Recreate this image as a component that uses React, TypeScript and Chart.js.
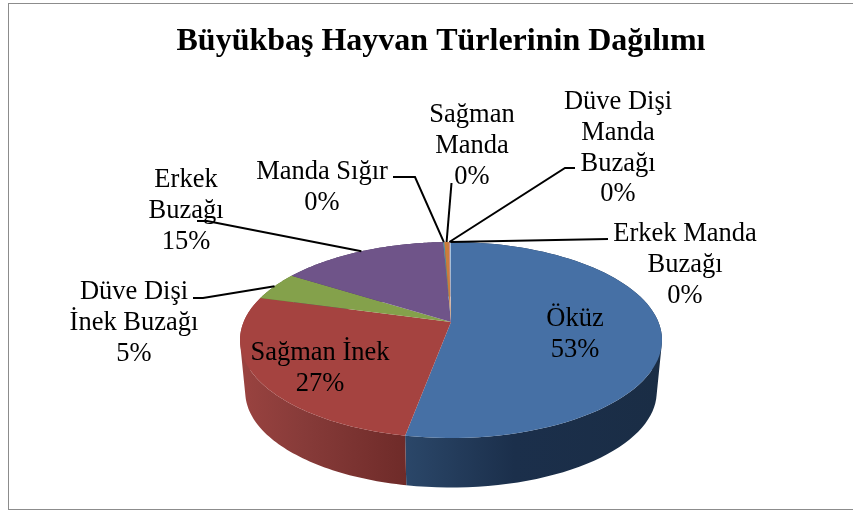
import React, { useEffect, useRef } from "react";
import { Chart, registerables } from "chart.js";

Chart.register(...registerables);

const categories = ["Öküz", "Sağman İnek", "Düve Dişi İnek Buzağı", "Erkek Buzağı", "Manda Sığır", "Sağman Manda", "Düve Dişi Manda Buzağı", "Erkek Manda Buzağı"];
const seriesValues = [52.9, 26.4, 4.7, 15.3, 0.1, 0.4, 0.1, 0.1];
const topColors = ["#4670A5", "#A54340", "#84A14B", "#6F5489", "#4494AB", "#CB7D3C", "#D08A86", "#A9C4E0"];
const sideStops: string[][] = [
  ["#2B4769", "#1B2F4B", "#1A2D45"],
  ["#9A4340", "#873B39", "#6F2B29"],
  ["#5F7535", "#5F7535", "#5F7535"],
  ["#4F3C62", "#4F3C62", "#4F3C62"],
  ["#2F6A7B", "#2F6A7B", "#2F6A7B"],
  ["#8F5A2B", "#8F5A2B", "#8F5A2B"],
  ["#8F5A5A", "#8F5A5A", "#8F5A5A"],
  ["#6A8AA5", "#6A8AA5", "#6A8AA5"],
];
const labelLines: string[][] = [
  ["Öküz", "53%"],
  ["Sağman İnek", "27%"],
  ["Düve Dişi", "İnek Buzağı", "5%"],
  ["Erkek", "Buzağı", "15%"],
  ["Manda Sığır", "0%"],
  ["Sağman", "Manda", "0%"],
  ["Düve Dişi", "Manda", "Buzağı", "0%"],
  ["Erkek Manda", "Buzağı", "0%"],
];
const labelCenters: [number, number][] = [
  [575, 319], [320, 353], [134, 292], [186, 180], [322, 172], [472, 115.5], [618, 102], [685, 234],
];
const leaderStarts: ([number, number][] | null)[] = [
  null, null,
  [[193, 298], [203, 298]],
  [[197, 221], [207, 221]],
  [[393, 177], [415, 177]],
  [[451.5, 183]],
  [[575, 168], [565, 168]],
  [[608, 239]],
];

const TITLE = "Büyükbaş Hayvan Türlerinin Dağılımı";
const SERIF = '"Liberation Serif", "Times New Roman", serif';

const pie3d = {
  id: "pie3d",
  beforeDatasetDraw(chart: any, args: any) {
    const { ctx } = chart;
    const els = args.meta.data;
    const cx = els[0].x;
    const R = els[0].outerRadius;
    const cyTop = 340;
    const ry = 98;
    const k = -0.1837;
    const s = R * Math.sqrt(1 - k * k);
    const rim = (a: number, sc: number, dy: number) => {
      const X = Math.cos(a), Y = Math.sin(a);
      const d = 1 + k * Y;
      return [cx + (sc * s * X) / d, cyTop + dy + (sc * ry * (Y + k)) / d];
    };
    const apex = [cx, cyTop + ry * k];

    els.forEach((el: any, i: number) => {
      const g = ctx.createLinearGradient(cx - R, 0, cx + R, 0);
      const st = sideStops[i];
      if (i === 0) {
        g.addColorStop(0, st[0]);
        g.addColorStop(0.39, st[0]);
        g.addColorStop(0.65, st[1]);
        g.addColorStop(1, st[2]);
      } else {
        g.addColorStop(0, st[0]);
        g.addColorStop(0.15, st[1]);
        g.addColorStop(0.39, st[2]);
        g.addColorStop(1, st[2]);
      }
      ctx.fillStyle = g;
      const n = 80;
      ctx.beginPath();
      for (let j = 0; j < n; j++) {
        const a0 = el.startAngle + ((el.endAngle - el.startAngle) * j) / n;
        const a1 = el.startAngle + ((el.endAngle - el.startAngle) * (j + 1)) / n;
        const quad = [rim(a0, 1, 0), rim(a1, 1, 0), rim(a1, 0.975, 52), rim(a0, 0.975, 52)];
        let area = 0;
        quad.forEach((p, q) => {
          const r = quad[(q + 1) % 4];
          area += p[0] * r[1] - r[0] * p[1];
        });
        if (area < 0) quad.reverse();
        ctx.moveTo(quad[0][0], quad[0][1]);
        ctx.lineTo(quad[1][0], quad[1][1]);
        ctx.lineTo(quad[2][0], quad[2][1]);
        ctx.lineTo(quad[3][0], quad[3][1]);
        ctx.closePath();
      }
      ctx.fill("nonzero");
    });

    els.forEach((el: any, i: number) => {
      ctx.fillStyle = topColors[i];
      ctx.beginPath();
      ctx.moveTo(apex[0], apex[1]);
      const n = 80;
      for (let j = 0; j <= n; j++) {
        const a = el.startAngle + ((el.endAngle - el.startAngle) * j) / n;
        const p = rim(a, 1, 0);
        ctx.lineTo(p[0], p[1]);
      }
      ctx.closePath();
      ctx.fill();
    });

    ctx.strokeStyle = "#000";
    ctx.lineWidth = 2;
    els.forEach((el: any, i: number) => {
      const pts = leaderStarts[i];
      if (!pts) return;
      const mid = (el.startAngle + el.endAngle) / 2;
      const end = rim(mid, 1, 0);
      ctx.beginPath();
      ctx.moveTo(pts[0][0], pts[0][1]);
      pts.slice(1).forEach((p) => ctx.lineTo(p[0], p[1]));
      ctx.lineTo(end[0], end[1]);
      ctx.stroke();
    });
    return false;
  },
  afterDraw(chart: any) {
    const { ctx } = chart;
    ctx.save();
    ctx.fillStyle = "#000";
    ctx.textAlign = "center";
    ctx.textBaseline = "middle";
    ctx.font = `26.5px ${SERIF}`;
    labelLines.forEach((lines, i) => {
      const [x, y] = labelCenters[i];
      lines.forEach((t, j) => {
        ctx.fillText(t, x, y + j * 30.8);
      });
    });
    ctx.font = `bold 32px ${SERIF}`;
    ctx.fillText(TITLE, 441, 41.5);
    ctx.restore();
  },
};

export default function App() {
  const ref = useRef<HTMLCanvasElement>(null);
  useEffect(() => {
    document.body.style.margin = "0";
    const chart = new Chart(ref.current!, {
      type: "pie",
      data: {
        labels: categories,
        datasets: [{ data: seriesValues, backgroundColor: topColors, borderWidth: 0 }],
      },
      options: {
        animation: false,
        responsive: false,
        events: [],
        layout: { padding: { left: 240, right: 191, top: 44, bottom: 45 } },
        plugins: {
          legend: { display: false },
          tooltip: { enabled: false },
          title: { display: false, text: TITLE },
        },
      } as any,
      plugins: [pie3d],
    });
    return () => chart.destroy();
  }, []);
  return (
    <div style={{ position: "relative", width: 853, height: 511, background: "#fff", overflow: "hidden" }}>
      <canvas ref={ref} width={853} height={511} style={{ display: "block" }} />
      <div
        style={{
          position: "absolute",
          left: 8,
          top: 3,
          width: 900,
          height: 505,
          border: "1.5px solid #8c8c8c",
          boxSizing: "content-box",
        }}
      />
    </div>
  );
}
